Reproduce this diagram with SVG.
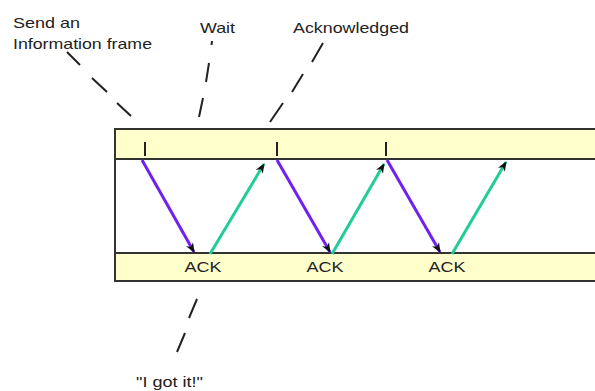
<svg xmlns="http://www.w3.org/2000/svg" width="595" height="391" viewBox="0 0 595 391">
<style>
.band{fill:#ffffcc;stroke:none}
.frame{fill:none;stroke:#333;stroke-width:2}
.tick{stroke:#222;stroke-width:2}
.lbl{font-family:"Liberation Sans",Arial,sans-serif;font-size:15px;fill:#222}
.ack{font-family:"Liberation Sans",Arial,sans-serif;font-size:15px;fill:#222;text-anchor:middle}
.dash{stroke:#222;stroke-width:2;fill:none}
.info{stroke:#7020f0;stroke-width:3;fill:none;marker-end:url(#ah)}
.resp{stroke:#22cc99;stroke-width:3;fill:none;marker-end:url(#ah)}
</style>
<defs>
<marker id="ah" markerUnits="userSpaceOnUse" markerWidth="12" markerHeight="10" refX="9" refY="4" orient="auto">
<path d="M0,0 L10,4 L0,8 L3,4 Z" fill="#111"/>
</marker>
</defs>
<rect width="595" height="391" fill="#fff"/>
<g id="channel">
<rect class="band" x="115" y="129" width="490" height="30"/>
<rect class="band" x="115" y="253" width="490" height="28"/>
<rect class="frame" x="115" y="129" width="490" height="152"/>
<line class="frame" x1="115" y1="159" x2="600" y2="159"/>
<line class="frame" x1="115" y1="253" x2="600" y2="253"/>
<line class="tick" x1="145" y1="142" x2="145" y2="156"/>
<line class="tick" x1="277" y1="142" x2="277" y2="156"/>
<line class="tick" x1="386" y1="142" x2="386" y2="156"/>
</g>
<g id="label-send"><text class="lbl" x="13" y="28" textLength="67" lengthAdjust="spacingAndGlyphs">Send an</text><text class="lbl" x="13" y="49" textLength="139" lengthAdjust="spacingAndGlyphs">Information frame</text></g>
<g id="label-wait"><text class="lbl" x="200" y="33" textLength="35" lengthAdjust="spacingAndGlyphs">Wait</text></g>
<g id="label-ack"><text class="lbl" x="293" y="33" textLength="116" lengthAdjust="spacingAndGlyphs">Acknowledged</text></g>
<g id="label-got"><text class="lbl" x="136" y="387" textLength="67" lengthAdjust="spacingAndGlyphs">"I got it!"</text></g>
<g id="ack1"><text class="ack" x="203" y="272" textLength="37" lengthAdjust="spacingAndGlyphs">ACK</text></g>
<g id="ack2"><text class="ack" x="325" y="272" textLength="37" lengthAdjust="spacingAndGlyphs">ACK</text></g>
<g id="ack3"><text class="ack" x="447" y="272" textLength="37" lengthAdjust="spacingAndGlyphs">ACK</text></g>
<g id="connectors">
<path class="dash" d="M67,52 L80,65 M92,78 L107,92 M117,103 L131,116"/>
<path class="dash" d="M212,41 L211.5,45 M209,63 L206,82 M203,98 L199,117"/>
<path class="dash" d="M323,43 L312,62 M303,74 L292,92 M283,103 L270,122"/>
<path class="dash" d="M197,299 L189,318 M185,333 L177,352"/>
<line class="info" x1="142" y1="160" x2="194" y2="252"/>
<line class="resp" x1="210" y1="254" x2="264" y2="164"/>
<line class="info" x1="277" y1="160" x2="330" y2="252"/>
<line class="resp" x1="332" y1="254" x2="384" y2="164"/>
<line class="info" x1="387" y1="160" x2="440" y2="252"/>
<line class="resp" x1="452" y1="254" x2="506" y2="162"/>
</g>
</svg>
